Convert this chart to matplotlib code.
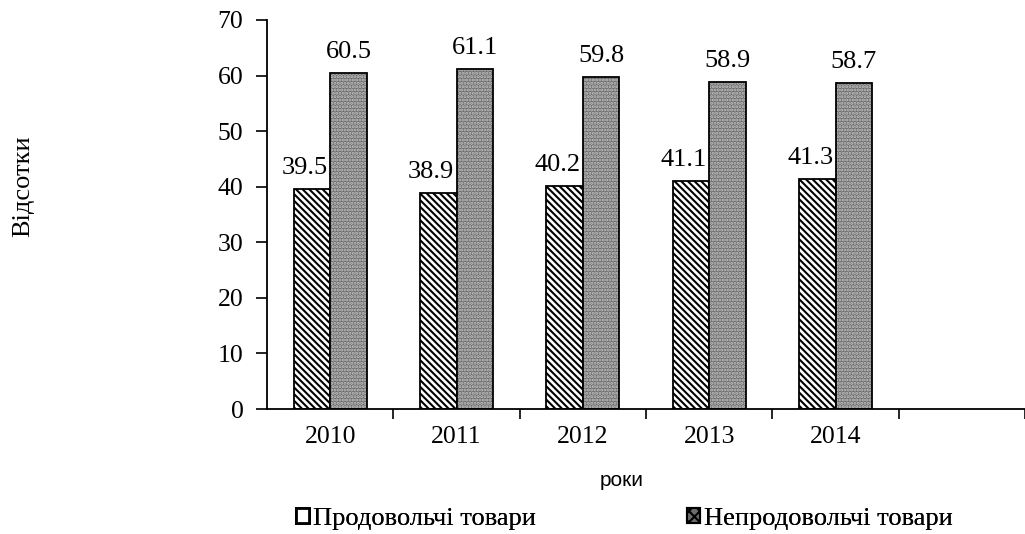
import numpy as np
import matplotlib.pyplot as plt
from matplotlib.patches import Patch

years = ['2010', '2011', '2012', '2013', '2014']
food = [39.5, 38.9, 40.2, 41.1, 41.3]
nonfood = [60.5, 61.1, 59.8, 58.9, 58.7]

plt.rcParams['font.family'] = 'Liberation Serif'
plt.rcParams['hatch.linewidth'] = 1.5

fig = plt.figure(figsize=(10.25, 5.34), dpi=100)
ax = fig.add_axes([267 / 1025, 1 - 409 / 534, 758 / 1025, 389 / 534])

x = np.arange(len(years))
w = 0.29
ax.bar(x - w / 2, food, w, color='white', edgecolor='black', hatch='\\\\\\\\\\', linewidth=1.3)
ax.bar(x + w / 2, nonfood, w, color='#6c6c6c', edgecolor='#c4c4c4', hatch='.....', linewidth=0)
ax.bar(x + w / 2, nonfood, w, color='none', edgecolor='black', linewidth=1.3)

for i in range(len(years)):
    ax.text(x[i] - w / 2 - 0.055, food[i] + 2.7, f'{food[i]}', ha='center', va='baseline', fontsize=19)
    ax.text(x[i] + w / 2, nonfood[i] + 2.7, f'{nonfood[i]}', ha='center', va='baseline', fontsize=19)

ax.set_xlim(-0.5, -0.5 + 758 / 127)
ax.set_ylim(0, 70)
ax.set_yticks(range(0, 71, 10))
ax.set_xticks(x)
ax.set_xticklabels(years)
ax.set_xticks(np.arange(0.5, 6, 1), minor=True)
ax.tick_params(axis='x', which='major', length=0, pad=12, labelsize=18.5)
ax.tick_params(axis='x', which='minor', length=7, direction='out', width=1.2)
ax.tick_params(axis='y', length=8, direction='out', labelsize=18.5, pad=9, width=1.2)
for s in ['top', 'right']:
    ax.spines[s].set_visible(False)
ax.spines['left'].set_linewidth(1.3)
ax.spines['bottom'].set_linewidth(1.3)

ax.set_xlabel('роки', family='Liberation Sans', fontsize=15, va='center')
ax.xaxis.set_label_coords((622 - 267) / 758, (409 - 481) / 389)
fig.text(23 / 1025, 1 - 186 / 534, 'Відсотки', rotation=90, ha='center', va='center', fontsize=19)

h1 = Patch(facecolor='white', edgecolor='black', hatch='/', linewidth=2)
h2 = Patch(facecolor='#6c6c6c', edgecolor='black', hatch='xxx', linewidth=1.5)
for h, lab, x0 in [(h1, 'Продовольчі товари', 296), (h2, 'Непродовольчі товари', 687)]:
    leg = fig.legend([h], [lab], loc='center left', bbox_to_anchor=(x0 / 1025, 1 - 519 / 534),
                     frameon=False, fontsize=19, borderpad=0, borderaxespad=0,
                     handlelength=0.5, handleheight=0.5, handletextpad=0.15)
    fig.add_artist(leg)

fig.savefig('out.png', dpi=100)
